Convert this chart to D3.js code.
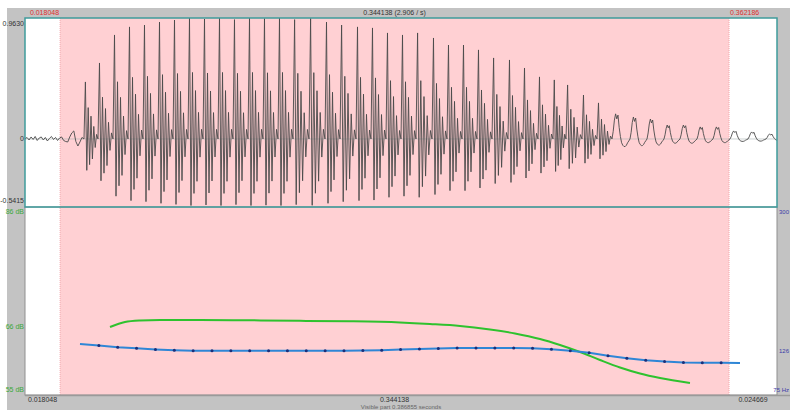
<!DOCTYPE html>
<html>
<head>
<meta charset="utf-8">
<script src="https://cdn.jsdelivr.net/npm/d3@7"></script>
<style>
body { margin: 0; background: #ffffff; }
text { font-family: "Liberation Sans", Arial, sans-serif; font-size: 7px; }
</style>
</head>
<body>
<div id="chart"></div>
<script>
// Sound window (seconds)
var totalDuration = 0.386855;
var selection = [0.018048, 0.362186];
var topLabels = ["0.018048", "0.344138 (2.906 / s)", "0.362186"];
var bottomLabels = ["0.018048", "0.344138", "0.024669"];
var visibleLabel = "Visible part 0.386855 seconds";

// Waveform amplitude range and labels
var ampRange = [-0.5415, 0.963];
var ampLabels = ["0.9630", "0", "-0.5415"];

// Low-level noise before voicing (amplitude, evenly from 0 s to first pulse)
var noise = [0.0, 0.012, -0.008, 0.016, -0.004, 0.02, -0.012, 0.008, 0.016, -0.008,
	0.012, -0.016, 0.004, 0.02, -0.004, 0.012, -0.012, 0.008, 0.016, -0.012,
	-0.02, -0.024, 0.016, 0.048, 0.064, -0.02, -0.056, -0.024, 0.012, 0.0];

// Glottal pulses: time (s), peak amplitude, cycle shape
var pulseTimes = [0.03035, 0.03755, 0.04527, 0.05299, 0.06070, 0.06842, 0.07614, 0.08385, 0.09157, 0.09929,
	0.10700, 0.11472, 0.12243, 0.13015, 0.13787, 0.14610, 0.15433, 0.16205, 0.17028, 0.17799,
	0.18571, 0.19343, 0.20114, 0.20937, 0.21709, 0.22481, 0.23252, 0.24024, 0.24847, 0.25619,
	0.26390, 0.27162, 0.27831, 0.28654, 0.29425, 0.30197, 0.31123, 0.31998, 0.32872, 0.33695,
	0.34570, 0.35393, 0.36268, 0.37193, 0.38119];
var pulseAmps = [0.454, 0.605, 0.828, 0.892, 0.907, 0.931, 0.947, 0.963, 0.955, 0.963,
	0.95, 0.963, 0.958, 0.963, 0.95, 0.96, 0.931, 0.907, 0.892, 0.884,
	0.844, 0.828, 0.844, 0.804, 0.748, 0.748, 0.709, 0.645, 0.629, 0.565,
	0.494, 0.47, 0.43, 0.35, 0.287, 0.2, 0.175, 0.159, 0.111, 0.111,
	0.096, 0.096, 0.064, 0.056, 0.04];
var pulseShapes = ["A", "A", "A", "A", "A", "A", "A", "A", "A", "A",
	"A", "A", "A", "A", "A", "A", "A", "A", "A", "A",
	"A", "A", "A", "A", "A", "A", "A", "A", "A", "A",
	"A", "A", "A", "A", "A", "B", "B", "B", "B", "B",
	"B", "B", "B", "B", "B"];
// One period of each cycle shape (relative to the peak)
var shapes = {
	A: [0, 1.0, -0.55, 0.55, -0.45, 0.4, -0.35, 0.22, -0.15, 0.08, 0],
	B: [0, 0.3, 0.75, 1.0, 0.8, 0.95, 0.45, 0.1, -0.15, -0.25, -0.3, -0.3, -0.25, -0.15, -0.08, 0]
};

// Pitch (Hz)
var pitchRange = [75, 300];
var pitchTimes = [0.02829, 0.03799, 0.04769, 0.05739, 0.06710, 0.07680, 0.08650, 0.09620, 0.10590, 0.11560,
	0.12530, 0.13500, 0.14470, 0.15440, 0.16410, 0.17380, 0.18351, 0.19321, 0.20291, 0.21261,
	0.22231, 0.23201, 0.24171, 0.25141, 0.26111, 0.27081, 0.28051, 0.29021, 0.29992, 0.30962,
	0.31932, 0.32902, 0.33872, 0.34842, 0.35812, 0.36782];
var pitchHz = [134.3, 132.6, 130.4, 129.0, 127.6, 126.7, 126.0, 126.0, 126.0, 126.0,
	126.0, 126.0, 126.0, 126.0, 126.0, 126.3, 126.8, 127.5, 128.2, 128.8,
	129.3, 129.4, 129.4, 129.4, 129.1, 128.0, 126.0, 123.6, 120.0, 117.1,
	114.6, 113.0, 112.0, 111.7, 111.7, 111.3];
var pitchMean = 126;

// Intensity (dB)
var intensityRange = [55, 86];
var intensityTimes = [0.04373, 0.05144, 0.05916, 0.06945, 0.09003, 0.11575, 0.14147, 0.16719, 0.19291, 0.20834,
	0.22378, 0.23921, 0.25207, 0.26493, 0.27522, 0.28551, 0.29580, 0.30609, 0.31637, 0.32666, 0.34209];
var intensityDb = [66.0, 66.83, 67.08, 67.17, 67.17, 67.12, 67.03, 66.95, 66.75, 66.5,
	66.17, 65.58, 64.92, 64.0, 63.0, 61.83, 60.5, 59.25, 58.25, 57.5, 56.67];
var intensityMean = 66;

// Layout
var width = 790, height = 410;
var frame = { left: 25, right: 777, top: 18, mid: 207, bottom: 395 };
var colors = {
	gray: "#c3c3c3",
	pink: "#ffd0d3",
	teal: "#3f9c9c",
	wave: "#4a4a4a",
	pitch: "#2f86d6",
	pitchDot: "#1b2f7a",
	intensity: "#2ec22e",
	red: "#e0302f",
	blueText: "#3b3ba8",
	greenText: "#3aa83a"
};

var svg = d3.select("#chart")
	.append("svg")
	.attr("width", width)
	.attr("height", height);

// Gray window background
svg.append("rect")
	.attr("x", 7).attr("y", 8)
	.attr("width", width - 7).attr("height", height - 8)
	.attr("fill", colors.gray);

// Scales
var x = d3.scaleLinear().domain([0, totalDuration]).range([frame.left, frame.right]);
var yAmp = d3.scaleLinear().domain(ampRange).range([frame.mid, frame.top]);
var yPitch = d3.scaleLinear().domain(pitchRange).range([frame.bottom - 2, frame.mid]);
var yInt = d3.scaleLinear().domain(intensityRange).range([frame.bottom - 2, frame.mid]);

// Plot area and selection
svg.append("rect")
	.attr("x", frame.left).attr("y", frame.top)
	.attr("width", frame.right - frame.left).attr("height", frame.bottom - frame.top)
	.attr("fill", "#ffffff");
svg.append("rect")
	.attr("x", x(selection[0])).attr("y", frame.top)
	.attr("width", x(selection[1]) - x(selection[0])).attr("height", frame.bottom - frame.top)
	.attr("fill", colors.pink);
svg.selectAll("sel_edge")
	.data(selection)
	.enter()
	.append("line")
	.attr("x1", function(d) { return x(d); })
	.attr("x2", function(d) { return x(d); })
	.attr("y1", frame.top).attr("y2", frame.bottom)
	.attr("stroke", "#f2a9ae")
	.attr("stroke-width", 1)
	.attr("stroke-dasharray", "1,1");

// Lower panel border
svg.append("rect")
	.attr("x", frame.left).attr("y", frame.mid)
	.attr("width", frame.right - frame.left).attr("height", frame.bottom - frame.mid)
	.attr("fill", "none")
	.attr("stroke", "#8f8f8f")
	.attr("stroke-width", 1);
svg.append("line")
	.attr("x1", frame.left).attr("x2", width)
	.attr("y1", frame.bottom + 0.5).attr("y2", frame.bottom + 0.5)
	.attr("stroke", "#9a9a9a")
	.attr("stroke-width", 1.5);

// Build waveform samples from noise + pulse cycles
var samples = [];
noise.forEach(function(v, i) {
	samples.push([pulseTimes[0] * i / (noise.length - 1), v]);
});
pulseTimes.forEach(function(t, i) {
	var next = i < pulseTimes.length - 1 ? pulseTimes[i + 1] : t + (t - pulseTimes[i - 1]);
	var shape = shapes[pulseShapes[i]];
	shape.forEach(function(v, j) {
		if (j === 0) return;
		samples.push([t + (next - t) * j / (shape.length - 1), v * pulseAmps[i]]);
	});
});

svg.append("clipPath")
	.attr("id", "waveClip")
	.append("rect")
	.attr("x", frame.left).attr("y", frame.top)
	.attr("width", frame.right - frame.left).attr("height", frame.mid - frame.top);

// Zero line
svg.append("line")
	.attr("x1", frame.left).attr("x2", frame.right)
	.attr("y1", yAmp(0)).attr("y2", yAmp(0))
	.attr("stroke", "#a8b4b4")
	.attr("stroke-width", 0.6);

svg.append("path")
	.datum(samples)
	.attr("clip-path", "url(#waveClip)")
	.attr("d", d3.line()
		.x(function(d) { return x(d[0]); })
		.y(function(d) { return yAmp(d[1]); }))
	.attr("fill", "none")
	.attr("stroke", colors.wave)
	.attr("stroke-width", 0.9);

// Waveform frame
svg.append("rect")
	.attr("x", frame.left).attr("y", frame.top)
	.attr("width", frame.right - frame.left).attr("height", frame.mid - frame.top)
	.attr("fill", "none")
	.attr("stroke", colors.teal)
	.attr("stroke-width", 1.5);

// Intensity curve
svg.append("path")
	.datum(d3.zip(intensityTimes, intensityDb))
	.attr("d", d3.line()
		.x(function(d) { return x(d[0]); })
		.y(function(d) { return yInt(d[1]); })
		.curve(d3.curveMonotoneX))
	.attr("fill", "none")
	.attr("stroke", colors.intensity)
	.attr("stroke-width", 2);

// Pitch curve and frames
svg.append("path")
	.datum(d3.zip(pitchTimes, pitchHz))
	.attr("d", d3.line()
		.x(function(d) { return x(d[0]); })
		.y(function(d) { return yPitch(d[1]); }))
	.attr("fill", "none")
	.attr("stroke", colors.pitch)
	.attr("stroke-width", 2);
svg.selectAll("pitch_dot")
	.data(d3.zip(pitchTimes, pitchHz).slice(1, -1))
	.enter()
	.append("circle")
	.attr("cx", function(d) { return x(d[0]); })
	.attr("cy", function(d) { return yPitch(d[1]); })
	.attr("r", 1.5)
	.attr("fill", colors.pitchDot);

// Top labels
svg.append("text").text(topLabels[0])
	.attr("x", x(selection[0]) - 1).attr("y", 15)
	.attr("text-anchor", "end").attr("fill", colors.red);
svg.append("text").text(topLabels[1])
	.attr("x", (x(selection[0]) + x(selection[1])) / 2).attr("y", 15)
	.attr("text-anchor", "middle").attr("fill", "#333");
svg.append("text").text(topLabels[2])
	.attr("x", x(selection[1]) + 1).attr("y", 15)
	.attr("text-anchor", "start").attr("fill", colors.red);

// Bottom labels
var bottomCenters = [
	(x(0) + x(selection[0])) / 2,
	(x(selection[0]) + x(selection[1])) / 2,
	(x(selection[1]) + x(totalDuration)) / 2
];
svg.selectAll("bottom_label")
	.data(bottomLabels)
	.enter()
	.append("text")
	.text(function(d) { return d; })
	.attr("x", function(d, i) { return bottomCenters[i]; })
	.attr("y", 402)
	.attr("text-anchor", "middle")
	.attr("fill", "#333");
svg.append("text").text(visibleLabel)
	.attr("x", (x(0) + x(totalDuration)) / 2).attr("y", 409)
	.attr("text-anchor", "middle")
	.style("font-size", "6px")
	.attr("fill", "#666");

// Amplitude labels
var ampValues = [ampRange[1], 0, ampRange[0]];
svg.selectAll("amp_label")
	.data(ampLabels)
	.enter()
	.append("text")
	.text(function(d) { return d; })
	.attr("x", frame.left - 1)
	.attr("y", function(d, i) { return yAmp(ampValues[i]) + [8, 2, -4][i]; })
	.attr("text-anchor", "end")
	.attr("fill", "#333");

// Intensity labels (left)
var intLabels = [[intensityRange[1], intensityRange[1] + " dB", 7], [intensityMean, intensityMean + " dB", 2], [intensityRange[0], intensityRange[0] + " dB", -1]];
svg.selectAll("int_label")
	.data(intLabels)
	.enter()
	.append("text")
	.text(function(d) { return d[1]; })
	.attr("x", frame.left - 1)
	.attr("y", function(d) { return yInt(d[0]) + d[2]; })
	.attr("text-anchor", "end")
	.attr("fill", colors.greenText);

// Pitch labels (right)
var pitchLabels = [[pitchRange[1], String(pitchRange[1]), 7], [pitchMean, String(pitchMean), 2], [pitchRange[0], pitchRange[0] + " Hz", -1]];
svg.selectAll("pitch_label")
	.data(pitchLabels)
	.enter()
	.append("text")
	.text(function(d) { return d[1]; })
	.attr("x", width - 1)
	.attr("y", function(d) { return yPitch(d[0]) + d[2]; })
	.attr("text-anchor", "end")
	.style("font-size", "6px")
	.attr("fill", colors.blueText);
</script>
</body>
</html>
